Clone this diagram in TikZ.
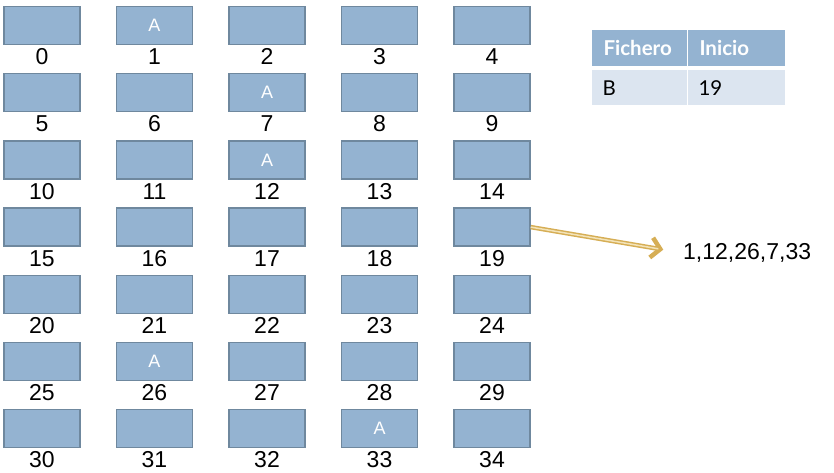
\documentclass[tikz,border=0pt]{standalone}
\usepackage{fontspec}
\setmainfont{Liberation Sans}
\newfontfamily\tablafont{Lato}
\usetikzlibrary{arrows.meta,positioning,calc}
\definecolor{bloquefill}{HTML}{94B3D1}
\definecolor{bloqueborde}{HTML}{6F889E}
\definecolor{cabecera}{HTML}{94B3D1}
\definecolor{filaclara}{HTML}{DCE5F0}
\definecolor{flechaoro}{HTML}{D6AE55}
\definecolor{flechaclara}{HTML}{F3E3B8}

\begin{document}
\begin{tikzpicture}[x=1pt,y=-1pt,
  bloque/.style={rectangle,fill=bloquefill,draw=bloqueborde,line width=1.5pt,
    minimum width=76pt,minimum height=38pt,inner sep=0pt},
  numero/.style={font=\fontsize{23pt}{23pt}\selectfont,inner sep=0pt},
  ocupado/.style={text=white,font=\fontsize{18pt}{18pt}\selectfont},
  celda/.style={rectangle,anchor=north west,inner sep=0pt,text depth=0pt,
    align=left,font=\tablafont\fontsize{20.5pt}{20.5pt}\selectfont}]
  \useasboundingbox (0,0) rectangle (834,473);
  % bloques del disco
  \foreach \r in {0,...,6}{
    \foreach \c in {0,...,4}{
      \pgfmathtruncatemacro{\n}{5*\r+\c}
      \node[bloque] (b\n) at (42+112.5*\c,25.5+67.2*\r) {};
      \node[numero] (n\n) at ($(b\n.south)+(0,11.5)$) {\n};
    }
  }
  % bloques del fichero
  \foreach \n in {1,7,12,26,33}{
    \node[ocupado] at (b\n) {A};
  }
  % tabla de asignacion
  \node[celda,fill=cabecera,minimum width=95pt,minimum height=36pt] (fich) at (592,30) {};
  \node[celda,fill=cabecera,minimum width=97pt,minimum height=36pt] (ini) at (688,30) {};
  \node[celda,fill=filaclara,minimum width=95pt,minimum height=35pt] (valb) at (592,70) {};
  \node[celda,fill=filaclara,minimum width=97pt,minimum height=35pt] (val19) at (688,70) {};
  \node[anchor=west,text=white,font=\tablafont\bfseries\fontsize{20.5pt}{20.5pt}\selectfont] at ($(fich.west)+(8,0)$) {Fichero};
  \node[anchor=west,text=white,font=\tablafont\bfseries\fontsize{20.5pt}{20.5pt}\selectfont] at ($(ini.west)+(8,0)$) {Inicio};
  \node[anchor=west,font=\tablafont\fontsize{20.5pt}{20.5pt}\selectfont] at ($(valb.west)+(7,0)$) {B};
  \node[anchor=west,font=\tablafont\fontsize{20.5pt}{20.5pt}\selectfont] at ($(val19.west)+(7,0)$) {19};
  % lista de bloques
  \node[numero,anchor=west] (lista) at (683,253) {1,12,26,7,33};
  \draw[flechaoro,line width=4.5pt,shorten >=20pt,-{Straight Barb[length=9pt,width=20pt]}] (b19.east) -- (lista.west);
  \draw[flechaclara,line width=1.5pt,shorten >=25pt] (b19.east) -- (lista.west);
\end{tikzpicture}
\end{document}
